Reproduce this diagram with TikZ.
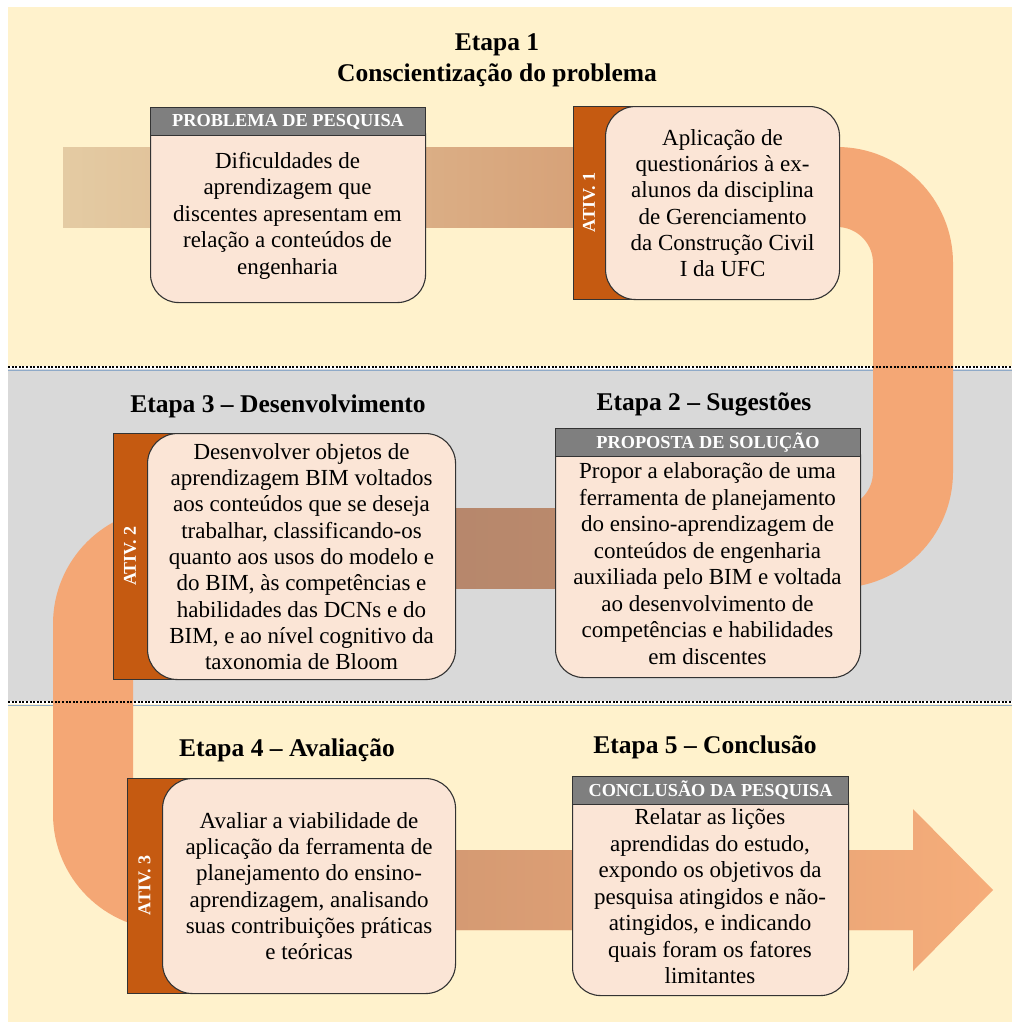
\documentclass[tikz,border=0pt]{standalone}
\usepackage{fontspec}
\setmainfont{Liberation Serif}
\usetikzlibrary{positioning}
\definecolor{bandbeige}{HTML}{FFF2CC}
\definecolor{bandgray}{HTML}{D9D9D9}
\definecolor{flow}{HTML}{F4A775}
\definecolor{flowtan}{HTML}{E4CBA3}
\definecolor{flowtop}{HTML}{D08D63}
\definecolor{flowmidl}{HTML}{AD826B}
\definecolor{flowmidr}{HTML}{C38E6D}
\definecolor{flowlow}{HTML}{C3906F}
\definecolor{flowtip}{HTML}{F6AD7A}
\definecolor{boxfill}{HTML}{FBE5D6}
\definecolor{tabfill}{HTML}{C55A11}
\definecolor{headfill}{HTML}{7F7F7F}
\definecolor{seplight}{HTML}{8FAAC8}
\tikzset{
  % stage titles
  etapa/.style={font=\fontsize{25.5}{29}\selectfont\bfseries, inner sep=0pt},
  % rounded activity box with its side tab
  actbox/.style={draw=black!80, fill=boxfill, rounded corners=30pt, line width=1.1pt,
    align=center, font=\fontsize{23}{26.3}\selectfont, inner sep=0pt},
  tabbar/.style={draw=black!80, fill=tabfill, line width=1.1pt, inner sep=0pt},
  tablbl/.style={text=white, font=\fontsize{18}{20}\selectfont\bfseries, inner sep=0pt},
  % box with a grey header
  infobox/.style={draw=black!80, fill=boxfill, rounded corners=28pt, line width=1.1pt, inner sep=0pt},
  headbar/.style={draw=black!80, fill=headfill, line width=1.1pt, text=white,
    font=\fontsize{18.3}{20}\selectfont\bfseries, inner sep=0pt},
  bodytxt/.style={align=center, font=\fontsize{23}{26.5}\selectfont, inner sep=0pt},
  % band separators
  sepline/.style={line width=3pt, white},
  sepblue/.style={line width=0.8pt, seplight},
  sepdots/.style={line width=2.6pt, black, dash pattern=on 2pt off 1.6pt},
}
% #1 name, #2 tab x, #3 box left, #4 box right, #5 top, #6 bottom, #7 label, #8 text
\newcommand{\ativbox}[8]{%
  \node[tabbar, anchor=north west, minimum width={(#3-#2+36)*1pt},
        minimum height={(#6-#5)*1pt}] (#1tab) at (#2,#5) {};
  \node[tablbl, rotate=90] (#1lbl) at ({(#2+#3)/2},{(#5+#6)/2}) {#7};
  \node[actbox, anchor=north west, minimum width={(#4-#3)*1pt},
        minimum height={(#6-#5)*1pt}] (#1) at (#3,#5) {#8};}
% #1 name, #2 left, #3 right, #4 top, #5 bottom, #6 header, #7 text
\newcommand{\infopanel}[7]{%
  \node[infobox, anchor=north west, minimum width={(#3-#2)*1pt},
        minimum height={(#5-#4)*1pt}] (#1) at (#2,#4) {};
  \node[headbar, anchor=north west, minimum width={(#3-#2)*1pt},
        minimum height=28pt] (#1head) at (#2,#4) {#6};
  \node[bodytxt] (#1txt) at ({(#2+#3)/2},{(#4+28+#5)/2-3}) {#7};}

\begin{document}
\begin{tikzpicture}[x=1pt, y=-1pt]

  \useasboundingbox (0,0) rectangle (1014,1025);
  \fill[white] (0,0) rectangle (1014,1025);

  % bands
  \fill[bandbeige] (8,7) rectangle (1012,368);
  \fill[bandgray] (8,368) rectangle (1012,702);
  \fill[bandbeige] (8,702) rectangle (1012,1022);
  \foreach \sy in {367,702} {
    \draw[sepline] (8,\sy) -- (1012,\sy);
    \draw[sepblue] (8,\sy+3.5) -- (1012,\sy+3.5);
  }

  % the flow arrow
  \draw[flow, line width=80pt, rounded corners=76pt]
    (63,187) -- (913,187) -- (913,548) -- (93,548) -- (93,890) -- (913,890);
  \shade[left color=flowtan, right color=flowtop] (63,147) rectangle (837,227);
  \shade[left color=flowmidl, right color=flowmidr] (169,508) rectangle (837,588);
  \shade[left color=flowlow, right color=flowtip]
    (169,850) -- (913,850) -- (913,809) -- (993,890) -- (913,971) -- (913,930) -- (169,930) -- cycle;

  \foreach \sy in {367,702}
    \draw[sepdots] (8,\sy) -- (1012,\sy);

  % titles
  \node[etapa] (e1a) at (497,45) {Etapa 1};
  \node[etapa, below=7pt of e1a] (e1b) {Conscientização do problema};
  \node[etapa] (e3) at (278,406) {Etapa 3 – Desenvolvimento};
  \node[etapa] (e2) at (704,404) {Etapa 2 – Sugestões};
  \node[etapa] (e4) at (287,750) {Etapa 4 – Avaliação};
  \node[etapa] (e5) at (705,747) {Etapa 5 – Conclusão};

  % boxes
  \infopanel{prob}{150}{425}{107}{302}{PROBLEMA DE PESQUISA}
    {Dificuldades de\\aprendizagem que\\discentes apresentam em\\relação a conteúdos de\\engenharia}
  \ativbox{ativa}{573}{605}{839}{106}{299}{ATIV. 1}
    {Aplicação de\\questionários à ex-\\alunos da disciplina\\de Gerenciamento\\da Construção Civil\\I da UFC}
  \ativbox{ativb}{113}{147}{455}{433}{679}{ATIV. 2}
    {Desenvolver objetos de\\aprendizagem BIM voltados\\aos conteúdos que se deseja\\trabalhar, classificando-os\\quanto aos usos do modelo e\\do BIM, às competências e\\habilidades das DCNs e do\\BIM, e ao nível cognitivo da\\taxonomia de Bloom}
  \infopanel{prop}{555}{860}{428}{677}{PROPOSTA DE SOLUÇÃO}
    {Propor a elaboração de uma\\ferramenta de planejamento\\do ensino-aprendizagem de\\conteúdos de engenharia\\auxiliada pelo BIM e voltada\\ao desenvolvimento de\\competências e habilidades\\em discentes}
  \ativbox{ativc}{127}{162}{455}{778}{993}{ATIV. 3}
    {Avaliar a viabilidade de\\aplicação da ferramenta de\\planejamento do ensino-\\aprendizagem, analisando\\suas contribuições práticas\\e teóricas}
  \infopanel{concl}{572}{848}{776}{995}{CONCLUSÃO DA PESQUISA}
    {Relatar as lições\\aprendidas do estudo,\\expondo os objetivos da\\pesquisa atingidos e não-\\atingidos, e indicando\\quais foram os fatores\\limitantes}

\end{tikzpicture}
\end{document}
